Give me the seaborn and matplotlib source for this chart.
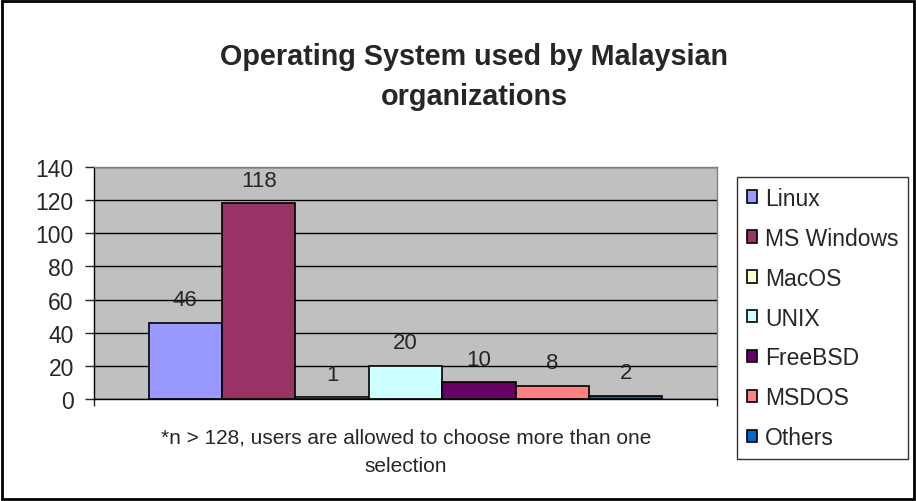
import pandas as pd
import matplotlib.pyplot as plt
import seaborn as sns
from matplotlib.patches import Rectangle

# datos del grafico
systems = ['Linux', 'MS Windows', 'MacOS', 'UNIX', 'FreeBSD', 'MSDOS', 'Others']
counts = [46, 118, 1, 20, 10, 8, 2]
colors = ['#9999FF', '#993366', '#FFFFCC', '#CCFFFF', '#660066', '#FF8080', '#0066CC']
y_ticks = [0, 20, 40, 60, 80, 100, 120, 140]

df = pd.DataFrame({'grupo': ['all'] * len(systems), 'OS': systems, 'Cantidad': counts})

sns.set_style('white')
plt.rcParams['font.family'] = ['Liberation Sans', 'DejaVu Sans']

fig = plt.figure(figsize=(9.16, 5.02), dpi=100)
ax = fig.add_axes([94 / 916, 1 - 400 / 502, 623 / 916, 232 / 502])
ax.set_facecolor('#C0C0C0')

sns.barplot(data=df, x='grupo', y='Cantidad', hue='OS', hue_order=systems,
            palette=colors, width=0.825, edgecolor='black', linewidth=1.2,
            saturation=1, ax=ax, legend=True)

ax.set_xlim(-0.5, 0.5)
ax.set_ylim(0, 140)
ax.set_yticks(y_ticks)
ax.tick_params(axis='y', labelsize=16.5, length=6.5, width=1, direction='out', left=True, pad=8)
ax.set_xticks([-0.5, 0.5])
ax.set_xticklabels(['', ''])
ax.tick_params(axis='x', length=5, width=1, direction='out', bottom=True)
ax.set_xlabel('')
ax.set_ylabel('')
ax.yaxis.grid(True, color='black', linewidth=1)
ax.set_axisbelow(True)
for s in ['left', 'bottom']:
    ax.spines[s].set_color('black')
    ax.spines[s].set_linewidth(1)
for s in ['top', 'right']:
    ax.spines[s].set_color('#808080')
    ax.spines[s].set_linewidth(1)

# etiquetas de valor sobre cada barra
for cont in ax.containers:
    ax.bar_label(cont, fontsize=16, padding=9)

handles, labels = ax.get_legend_handles_labels()
ax.legend(handles, labels, loc='upper left', bbox_to_anchor=(737 / 916, 1 - 178 / 502),
          bbox_transform=fig.transFigure, frameon=True, fancybox=False,
          edgecolor='black', fontsize=16.5, handlelength=0.45, handleheight=0.45,
          handletextpad=0.35, labelspacing=0.74, borderpad=0.42, borderaxespad=0)
ax.get_legend().get_frame().set_linewidth(1)

fig.text(474 / 916, 1 - 77 / 502, 'Operating System used by Malaysian\norganizations',
         ha='center', va='center', fontsize=20.7, fontweight='bold', linespacing=1.58)
fig.text(406 / 916, 1 - 452 / 502,
         '*n > 128, users are allowed to choose more than one\nselection',
         ha='center', va='center', fontsize=15, linespacing=1.63)

fig.patches.append(Rectangle((0.002, 0.003), 0.996, 0.994, transform=fig.transFigure,
                             fill=False, edgecolor='black', linewidth=2))

fig.savefig('out.png', dpi=100)
